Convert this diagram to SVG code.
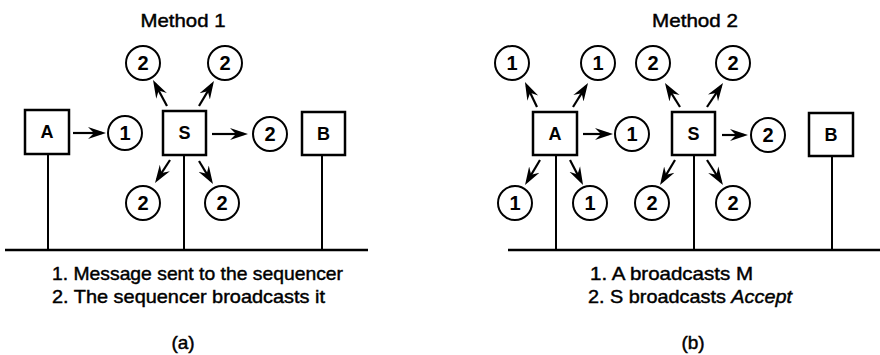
<svg xmlns="http://www.w3.org/2000/svg" width="880" height="355" viewBox="0 0 880 355">
<style>
.box{fill:#fff;stroke:#000;stroke-width:2.5}
.circ{fill:#fff;stroke:#000;stroke-width:2}
.ln{stroke:#000;stroke-width:2;fill:none}
.bus{stroke:#000;stroke-width:2.5;fill:none}
.arr{stroke:#000;stroke-width:2.2;fill:none;marker-end:url(#ah)}
.lbl{font-family:"Liberation Sans",Arial,sans-serif;font-size:20px;font-weight:bold;text-anchor:middle;dominant-baseline:central;fill:#000}
.bl{font-size:18px}
.txt{font-family:"Liberation Sans",Arial,sans-serif;font-size:19px;fill:#000;stroke:#000;stroke-width:0.45}
.ttl{font-family:"Liberation Sans",Arial,sans-serif;font-size:19px;fill:#000;stroke:#000;stroke-width:0.45;text-anchor:middle}
</style>
<defs>
<marker id="ah" viewBox="0 -7 18 14" markerUnits="userSpaceOnUse" markerWidth="18" markerHeight="14" refX="14" refY="0" orient="auto">
<path d="M0,-6 L18,0 L0,6 L6,0 Z" fill="#000"/>
</marker>
</defs>

<g id="titles">
<text class="ttl" x="183" y="27" textLength="85" lengthAdjust="spacingAndGlyphs">Method 1</text>
<text class="ttl" x="695" y="27" textLength="86" lengthAdjust="spacingAndGlyphs">Method 2</text>
</g>

<g id="wires">
<line class="bus" x1="5" y1="250" x2="368" y2="250"/>
<line class="ln" x1="48" y1="154" x2="48" y2="250"/>
<line class="ln" x1="184" y1="155" x2="184" y2="250"/>
<line class="ln" x1="322" y1="155" x2="322" y2="250"/>
<line class="bus" x1="508" y1="250" x2="880" y2="250"/>
<line class="ln" x1="556" y1="155" x2="556" y2="250"/>
<line class="ln" x1="694" y1="155" x2="694" y2="250"/>
<line class="ln" x1="832" y1="156" x2="832" y2="250"/>
</g>

<g id="connectors">
<line class="arr" x1="73" y1="133" x2="102" y2="133"/>
<line class="arr" x1="167" y1="106" x2="154.9" y2="83.5"/>
<line class="arr" x1="199" y1="106" x2="211.9" y2="84.4"/>
<line class="arr" x1="212" y1="134" x2="244" y2="134"/>
<line class="arr" x1="170" y1="160" x2="157.2" y2="179.7"/>
<line class="arr" x1="199" y1="161" x2="210.9" y2="180.6"/>

<line class="arr" x1="537" y1="107" x2="526.7" y2="85.6"/>
<line class="arr" x1="573" y1="107" x2="585.9" y2="86.4"/>
<line class="arr" x1="583" y1="134" x2="609" y2="134"/>
<line class="arr" x1="540" y1="160" x2="527.1" y2="181.6"/>
<line class="arr" x1="570" y1="160" x2="581.2" y2="181.5"/>
<line class="arr" x1="680" y1="107" x2="667.1" y2="86.4"/>
<line class="arr" x1="707" y1="107" x2="720.8" y2="86.3"/>
<line class="arr" x1="722" y1="135" x2="744" y2="135"/>
<line class="arr" x1="675" y1="160" x2="662.1" y2="181.6"/>
<line class="arr" x1="707" y1="160" x2="720.8" y2="181.6"/>
</g>

<g id="a1-A"><rect class="box" x="25" y="110" width="44" height="44"/><text class="lbl bl" x="47" y="132">A</text></g>
<g id="a1-S"><rect class="box" x="163" y="111" width="43" height="44"/><text class="lbl bl" x="184.5" y="133">S</text></g>
<g id="a1-B"><rect class="box" x="302" y="112" width="43" height="43"/><text class="lbl bl" x="323.5" y="133.5">B</text></g>

<g id="a1-m1"><circle class="circ" cx="125" cy="133" r="17"/><text class="lbl" x="125" y="133">1</text></g>
<g id="a1-m2a"><circle class="circ" cx="143" cy="63" r="17"/><text class="lbl" x="143" y="63">2</text></g>
<g id="a1-m2b"><circle class="circ" cx="225" cy="63" r="17"/><text class="lbl" x="225" y="63">2</text></g>
<g id="a1-m2c"><circle class="circ" cx="270" cy="134" r="17"/><text class="lbl" x="270" y="134">2</text></g>
<g id="a1-m2d"><circle class="circ" cx="143" cy="203" r="17"/><text class="lbl" x="143" y="203">2</text></g>
<g id="a1-m2e"><circle class="circ" cx="222" cy="203" r="17"/><text class="lbl" x="222" y="203">2</text></g>

<g id="b-A"><rect class="box" x="533" y="112" width="44" height="43"/><text class="lbl bl" x="555" y="133.5">A</text></g>
<g id="b-S"><rect class="box" x="672" y="112" width="43" height="43"/><text class="lbl bl" x="693.5" y="133.5">S</text></g>
<g id="b-B"><rect class="box" x="809" y="113" width="44" height="43"/><text class="lbl bl" x="831" y="134.5">B</text></g>

<g id="b-m1a"><circle class="circ" cx="512" cy="63" r="17"/><text class="lbl" x="512" y="63">1</text></g>
<g id="b-m1b"><circle class="circ" cx="598" cy="63" r="17"/><text class="lbl" x="598" y="63">1</text></g>
<g id="b-m1c"><circle class="circ" cx="632" cy="134" r="17"/><text class="lbl" x="632" y="134">1</text></g>
<g id="b-m1d"><circle class="circ" cx="515" cy="203" r="17"/><text class="lbl" x="515" y="203">1</text></g>
<g id="b-m1e"><circle class="circ" cx="590" cy="203" r="17"/><text class="lbl" x="590" y="203">1</text></g>
<g id="b-m2a"><circle class="circ" cx="653" cy="63" r="17"/><text class="lbl" x="653" y="63">2</text></g>
<g id="b-m2b"><circle class="circ" cx="733" cy="63" r="17"/><text class="lbl" x="733" y="63">2</text></g>
<g id="b-m2c"><circle class="circ" cx="768" cy="135" r="17"/><text class="lbl" x="768" y="135">2</text></g>
<g id="b-m2d"><circle class="circ" cx="652" cy="203" r="17"/><text class="lbl" x="652" y="203">2</text></g>
<g id="b-m2e"><circle class="circ" cx="733" cy="203" r="17"/><text class="lbl" x="733" y="203">2</text></g>

<g id="captions">
<text class="txt" x="52" y="280" textLength="291" lengthAdjust="spacingAndGlyphs">1. Message sent to the sequencer</text>
<text class="txt" x="52" y="303" textLength="273" lengthAdjust="spacingAndGlyphs">2. The sequencer broadcasts it</text>
<text class="ttl" x="183" y="349">(a)</text>
<text class="txt" x="590" y="280" textLength="163" lengthAdjust="spacingAndGlyphs">1.  A broadcasts M</text>
<text class="txt" x="588" y="303" textLength="204" lengthAdjust="spacingAndGlyphs">2. S broadcasts <tspan font-style="italic">Accept</tspan></text>
<text class="ttl" x="693" y="349">(b)</text>
</g>
</svg>
